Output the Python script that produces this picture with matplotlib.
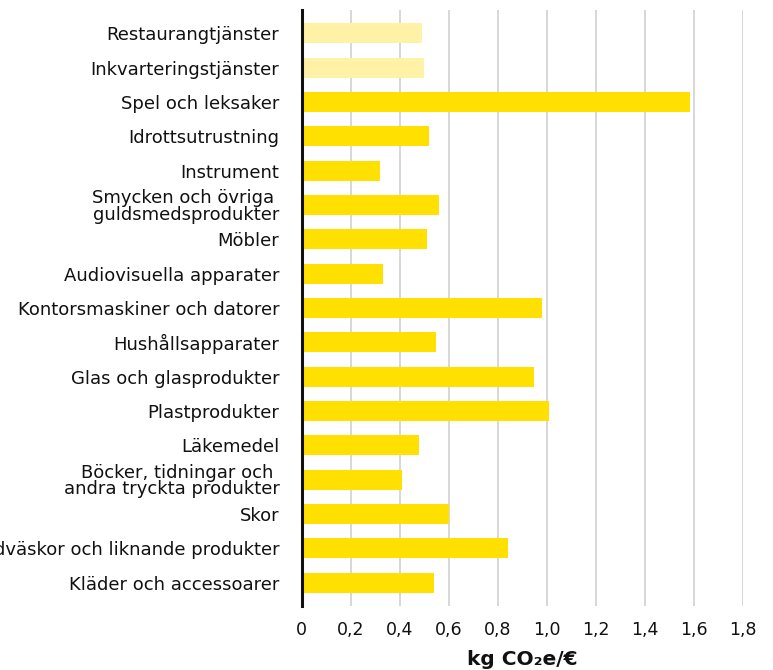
import matplotlib
matplotlib.use("Agg")
import matplotlib.pyplot as plt
from matplotlib.ticker import FixedLocator, FuncFormatter

plt.rcParams['font.family'] = ['DejaVu Sans']

categories = [
    "Restaurangtjänster",
    "Inkvarteringstjänster",
    "Spel och leksaker",
    "Idrottsutrustning",
    "Instrument",
    "Smycken och övriga \nguldsmedsprodukter",
    "Möbler",
    "Audiovisuella apparater",
    "Kontorsmaskiner och datorer",
    "Hushållsapparater",
    "Glas och glasprodukter",
    "Plastprodukter",
    "Läkemedel",
    "Böcker, tidningar och \nandra tryckta produkter",
    "Skor",
    "Handväskor och liknande produkter",
    "Kläder och accessoarer",
]
values = [0.49, 0.50, 1.585, 0.52, 0.32, 0.56, 0.51, 0.33, 0.98, 0.55,
          0.95, 1.01, 0.48, 0.41, 0.60, 0.84, 0.54]
light = [True, True] + [False] * 15
xticks = [0, 0.2, 0.4, 0.6, 0.8, 1.0, 1.2, 1.4, 1.6, 1.8]

W, H = 773, 670
fig = plt.figure(figsize=(W / 100, H / 100), dpi=100)
left, right, top, bottom = 301.7, 742.7, 10, 606
ax = fig.add_axes([left / W, 1 - bottom / H, (right - left) / W, (bottom - top) / H])

n = len(categories)
ypos = list(range(n))
colors = ['#FFF2A6' if l else '#FFE000' for l in light]
ax.barh(ypos, values, height=0.58, color=colors, zorder=2)
ax.set_ylim(n - 1 + 0.68, -0.68)
ax.set_xlim(0, 1.8)

ax.xaxis.set_major_locator(FixedLocator(xticks))
ax.xaxis.set_major_formatter(FuncFormatter(lambda v, p: "0" if v == 0 else f"{v:.1f}".replace('.', ',')))
ax.grid(axis='x', color='#d4d4d4', linewidth=1.3, zorder=0)
ax.grid(axis='y', visible=False)
for s in ['top', 'right', 'bottom']:
    ax.spines[s].set_visible(False)
ax.spines['left'].set_linewidth(2.2)
ax.spines['left'].set_color('#111111')
ax.spines['left'].set_zorder(3)

ax.set_yticks(ypos)
ax.set_yticklabels(categories, fontsize=13, color='#111111', linespacing=0.9)
ax.tick_params(axis='y', length=0, pad=16)
ax.tick_params(axis='x', length=0, pad=11, labelsize=12.5, labelcolor='#111111')

ax.set_xlabel("kg CO₂e/€", fontsize=14.5, fontweight='bold', color='#111111', labelpad=8)

fig.savefig("out.png", dpi=100)
